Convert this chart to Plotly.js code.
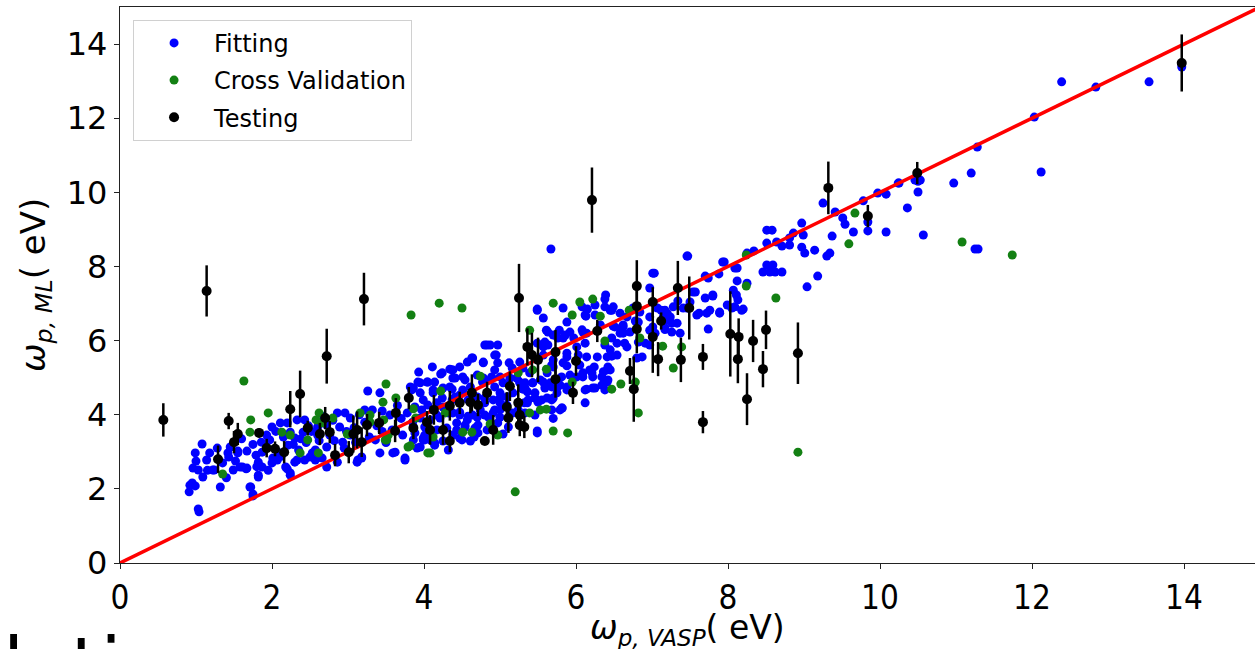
<!DOCTYPE html>
<html>
<head>
<meta charset="utf-8">
<script src="https://cdn.plot.ly/plotly-3.0.1.min.js"></script>
<style>
html,body{margin:0;padding:0;background:#fff;}
#chart{width:1255px;height:649px;}
</style>
</head>
<body>
<div id="chart"></div>
<script>
// ---- Data ----
const seriesNames = ["Fitting", "Cross Validation", "Testing"];

// Fitting: [omega_VASP, omega_ML]
const fittingPts = [
[1.08,3.21],[0.99,2.97],[1.18,2.97],[1.14,2.78],[0.96,2.56],[1.03,2.51],[1.09,2.32],[0.92,2.10],[0.99,2.08],[0.91,1.92],
[1.04,1.38],[1.32,2.05],[1.24,2.51],[1.45,3.13],[1.43,2.86],[1.55,3.02],[1.67,3.02],[1.61,2.59],[1.67,2.56],[1.71,2.05],
[1.75,1.86],[1.82,2.37],[1.82,2.72],[1.79,2.91],[1.87,2.99],[1.86,3.26],[1.93,3.45],[1.97,3.32],[2.01,2.83],[2.08,2.99],
[2.11,3.78],[2.20,3.78],[2.00,3.67],[2.24,3.53],[2.30,3.37],[2.21,3.18],[2.18,2.59],[2.24,2.43],[2.30,2.72],[2.33,3.86],
[2.43,3.86],[2.41,3.53],[2.43,2.78],[2.50,2.86],[2.57,3.05],[2.60,3.45],[2.72,3.72],[2.86,4.05],[2.89,3.67],[2.93,3.26],
[2.72,3.13],[2.66,2.83],[2.96,4.05],[3.03,3.91],[3.13,2.78],[3.18,2.83],[3.26,4.64],[3.32,4.13],[3.42,4.59],[3.42,2.97],
[3.36,3.32],[3.55,3.99],[3.58,3.59],[3.62,2.99],[3.75,2.83],[3.72,3.45],[3.82,4.75],[3.93,5.15],[3.95,4.86],[4.04,4.88],
[3.99,3.32],[3.91,3.10],[3.03,3.45],[2.76,3.45],[2.60,3.67],
[0.95,2.16],[1.03,1.46],[1.22,2.51],[1.49,2.51],[1.58,2.59],[1.66,2.54],[1.42,2.97],[1.55,2.97],[1.75,1.81],[1.72,2.05],
[1.82,2.32],[1.87,2.59],[2.00,2.70],[2.07,2.78],[2.20,2.54],[2.24,2.37],[2.33,2.78],[2.53,2.97],[2.57,2.78],[2.72,2.59],
[2.86,2.72],[3.12,2.72],[3.18,2.86],[3.22,4.13],[3.59,2.97],[3.75,2.78],[3.88,3.51],[4.11,5.29],[4.22,5.10],[4.14,4.88],
[4.34,5.23],[4.12,4.67],[3.95,4.59],[3.84,4.67],[3.97,4.13],[4.05,4.26],[4.17,4.32],[4.24,4.45],[4.32,4.05],[4.21,3.91],
[3.99,3.37],[4.14,3.24],[4.25,3.29],[4.32,3.05],
[2.05,3.55],[2.15,3.40],[2.28,3.20],[2.35,3.05],[2.45,3.25],[2.52,3.55],[2.62,3.30],[2.68,3.95],[2.80,3.85],[2.82,3.30],
[2.95,3.10],[3.08,3.65],[3.15,4.00],[3.22,3.80],[3.28,3.40],[3.38,3.70],[3.45,4.10],[3.50,3.25],[3.65,4.25],[3.70,3.90],
[3.78,4.05],[3.85,3.80],[3.45,3.55],[3.10,3.25],[2.98,3.55],[2.48,3.70],[2.38,3.35],[1.75,3.20],[1.80,2.60],[1.95,2.50],
[2.12,2.88],[1.52,2.75],[1.35,2.70],[1.28,3.10],[1.60,3.35],[1.40,2.30],[1.15,2.50],[1.00,2.75],
[5.67,8.47],[7.46,8.28],[7.01,7.82],[6.97,7.42],[7.93,8.12],[8.09,7.96],[8.12,7.61],[8.07,7.36],[7.54,7.31],[7.80,7.23],
[7.70,7.15],[8.05,6.88],[8.18,6.82],[7.89,6.77],[7.76,6.82],[7.74,6.31],[7.62,6.74],[7.59,6.69],[7.46,6.88],[7.34,7.07],
[7.28,6.91],[7.20,6.74],[7.21,6.55],[7.33,6.47],[7.37,6.20],[7.26,6.23],[7.17,6.34],[7.07,6.88],[6.97,6.64],[6.97,6.28],
[6.91,5.93],[6.97,5.88],[6.87,5.56],[6.80,5.53],[6.82,5.96],[6.71,6.23],[6.62,6.42],[6.58,6.20],[6.64,5.93],[6.67,6.64],
[6.58,6.74],[6.51,6.37],[6.47,6.07],[6.54,5.61],[6.47,5.58],[6.41,5.56],[6.38,5.88],[6.42,5.29],[6.36,5.16],[6.34,5.02],
[6.22,5.02],[6.18,5.21],[6.38,6.91],[6.39,7.23],[6.45,6.82],[6.25,6.69],[6.13,6.66],[6.32,6.42],[6.14,6.20],[6.08,6.29],
[6.12,5.93],[6.01,5.83],[6.03,5.61],[6.14,5.56],[6.28,5.56],[6.24,5.29],[6.09,5.13],[6.01,5.02],[6.14,4.69],[6.25,4.72],
[6.34,4.80],[5.88,5.56],[5.83,5.40],[5.88,4.75],[5.79,4.80],[5.81,5.02],[5.88,5.32],[5.78,6.28],[5.83,6.07],[5.92,6.23],
[5.88,6.50],[5.83,6.88],[6.08,6.91],[6.15,6.85],[5.97,6.07],[5.70,6.15],[5.63,5.88],[5.57,5.83],[5.49,6.82],[5.57,6.61],
[5.61,6.28],[5.68,5.34],[5.62,5.13],[5.57,4.88],[5.68,4.75],[5.68,4.40],[5.62,4.45],[5.75,4.59],[5.81,4.18],[5.49,3.56],
[5.50,4.34],[5.46,4.59],[5.43,4.86],[5.36,4.62],[5.30,4.69],[5.33,4.86],[5.26,4.86],[5.22,4.99],[5.16,5.26],[5.12,5.40],
[5.30,5.26],[5.26,5.42],[5.39,5.13],[5.32,4.32],[5.33,4.05],[5.24,4.13],[5.17,4.05],[5.09,4.48],[5.00,4.59],[5.00,4.32],
[5.04,4.86],[4.93,4.75],[4.89,5.02],[4.93,5.21],[4.95,5.61],[4.80,5.88],[4.87,5.88],[4.77,4.88],[4.80,4.32],[4.74,4.13],
[4.85,3.93],[4.93,4.13],[5.00,3.93],[5.11,3.67],[5.04,3.48],[4.83,3.59],[4.71,3.72],[4.64,3.99],[4.57,3.86],[4.64,4.53],
[4.61,4.75],[4.51,4.67],[4.54,4.94],[4.64,5.53],[4.78,5.40],[4.78,4.99],[4.38,5.21],[4.41,4.99],[4.47,5.29],[4.41,4.48],
[4.34,4.75],[4.47,4.07],[4.43,3.78],[4.50,3.32],[4.38,3.45],[4.14,3.18],[4.01,3.32],[4.54,3.67],[4.61,3.29],[4.71,3.51],
[4.66,3.40],[5.79,4.13],[5.46,3.99],[6.12,4.32],[5.70,3.90],
[9.25,9.71],[9.41,9.47],[9.51,9.31],[9.54,9.14],[9.65,8.93],[9.84,9.20],[9.84,8.96],[10.08,8.93],[9.78,9.77],[9.97,9.98],
[10.08,9.95],[10.24,10.25],[10.50,10.30],[10.50,10.01],[10.36,9.58],[10.57,8.85],[9.37,8.82],[9.34,8.36],[9.30,8.28],[9.14,8.44],
[9.18,7.74],[9.04,7.45],[8.97,9.17],[8.99,8.85],[9.01,8.36],[8.97,8.52],[8.86,8.90],[8.81,8.77],[8.81,8.58],[8.71,8.55],
[8.64,8.66],[8.51,8.98],[8.58,8.98],[8.51,8.63],[8.51,8.04],[8.59,8.04],[8.46,7.85],[8.55,7.85],[8.71,7.85],[8.62,7.85],
[8.34,8.42],[8.25,8.36],[8.12,7.96],[7.95,8.12],[7.88,7.80],[8.11,7.23],[8.25,7.55],[7.74,7.69],[7.70,7.74],[7.47,8.28],
[7.57,7.31],[7.72,6.74],[7.80,7.20],[7.89,6.74],[7.99,6.96],[8.09,6.91],[8.13,7.10],[8.20,6.85],[7.50,7.04],[7.41,6.88],
[7.26,6.47],[7.24,6.64],[7.17,6.82],[7.12,6.82],[7.15,6.64],[7.01,6.37],[7.03,7.82],[6.84,6.77],[6.75,6.88],[6.78,6.53],
[6.82,6.50],[6.38,7.12],[6.47,6.82],[6.49,6.39],[6.60,6.35],[6.62,6.20],[6.67,5.83],[6.54,5.93],[6.45,5.75],[6.41,5.21],
[6.42,4.94],[6.38,4.67],[7.04,6.20],[7.17,6.30],
[12.39,12.98],[12.84,12.84],[13.54,12.98],[13.97,13.38],[12.03,12.03],[11.28,11.22],[11.20,10.52],[12.12,10.55],[10.97,10.25],[10.46,10.33],
[10.53,10.33],[10.25,10.25],[11.25,8.47],[11.29,8.47],
[5.49,6.85],[5.63,6.23],[5.86,6.15],[5.76,6.07],[6.09,6.23],[6.12,6.69],[6.25,6.96],[6.49,6.91],[6.62,6.37],[5.59,5.96],
[5.57,5.61],[5.70,5.48],[5.88,5.66],[6.05,5.34],[5.70,5.29],[5.92,5.07],[6.09,5.02],[6.21,5.13],[6.22,4.72],[6.12,4.67],
[6.45,5.21],[6.41,4.88],[5.49,5.93],[4.97,5.88],[4.83,5.88],[4.93,5.61],[4.78,5.42],[4.63,5.53],[4.57,5.42],[4.97,5.40],
[4.37,5.21],[4.24,5.13],[4.05,4.88],[3.92,4.88],[3.86,4.72],[4.38,4.99],[4.51,5.02],[4.70,5.07],[4.87,4.94],[5.00,5.02],
[5.13,4.99],[5.26,4.88],[5.33,4.72],[5.43,4.86],[5.53,4.94],[5.59,4.72],[5.66,4.86],[5.75,4.72],[5.88,4.67],[5.70,4.45],
[5.55,4.40],[5.46,4.45],[5.37,4.40],[5.36,4.32],[5.82,4.18],[5.68,4.13],[5.49,3.51],[4.37,4.69],[4.25,4.72],[4.12,4.59],
[3.99,4.40],[3.88,4.21],[4.37,4.40],[4.47,4.53],[4.58,4.40],[4.70,4.48],[4.80,4.45],[4.91,4.40],[5.00,4.45],[5.09,4.26],
[5.17,4.59],[5.00,4.13],[4.91,4.05],[4.80,3.99],[4.70,3.93],[4.58,3.96],[4.47,3.99],[4.38,4.05],[4.25,4.21],[4.17,3.99],
[4.08,3.86],[3.95,3.91],[3.86,3.67],[4.01,3.67],[4.17,3.59],[4.30,3.64],[4.43,3.59],[4.54,3.72],[4.67,3.64],[4.97,3.78],
[4.01,3.45],[4.08,3.32],[4.47,3.37],[3.86,3.32],[3.95,3.13]
];

// Cross validation: [omega_VASP, omega_ML]
const crossPts = [
[1.63,4.91],[1.35,2.40],[1.72,3.86],[1.71,3.53],[1.95,4.05],[2.13,3.53],[2.37,2.97],[2.47,3.32],[2.61,2.97],[2.62,4.05],
[2.80,3.91],[2.66,3.78],[3.16,4.05],[3.29,3.80],[3.50,4.83],[3.46,4.34],[3.63,4.45],[3.51,3.32],[3.83,6.69],[4.20,7.01],
[3.82,3.16],[4.05,2.97],[4.22,4.64],[4.12,3.40],[4.28,4.05],[3.86,4.16],[4.50,6.88],[4.74,5.04],[4.51,3.53],[4.63,3.53],
[4.97,3.45],[4.87,3.75],[5.24,5.13],[5.39,4.05],[5.53,4.13],[5.61,4.15],[5.70,3.56],[5.89,3.51],[5.20,1.92],[5.70,7.01],
[5.95,6.69],[6.05,7.04],[6.22,7.12],[6.32,6.66],[6.38,5.99],[5.43,5.21],[5.61,5.23],[5.95,4.88],[6.47,4.69],[6.59,4.83],
[6.82,4.05],[6.78,4.88],[6.84,6.07],[7.14,5.85],[7.28,5.26],[7.39,5.83],[8.24,8.31],[8.24,7.47],[5.39,6.28],[6.70,6.82],
[9.67,9.44],[9.59,8.61],[8.63,7.15],[8.92,2.99],[11.08,8.66],[11.74,8.31],[2.24,3.45],[2.58,3.86],[2.99,3.48],[3.29,3.99],
[3.49,3.32],[3.53,3.45],[3.89,3.91],[3.79,3.13],[4.08,2.97],[3.47,3.86]
];

// Testing: [omega_VASP, omega_ML, error]
const testingPts = [
[0.57,3.86,0.45],[1.14,7.34,0.69],[1.29,2.80,0.37],[1.43,3.83,0.22],[1.50,3.26,0.3],[1.55,3.48,0.3],[1.83,3.51,0.12],[1.93,3.10,0.25],
[2.04,3.08,0.2],[2.16,2.99,0.3],[2.24,4.15,0.49],[2.37,4.56,0.63],[2.47,3.64,0.2],[2.63,3.48,0.3],[2.70,3.91,0.3],[2.72,5.58,0.74],
[2.76,3.53,0.3],[2.83,2.91,0.3],[3.01,2.99,0.3],[3.07,3.48,0.5],[3.12,3.59,0.5],[3.18,3.26,0.4],[3.21,7.12,0.71],[3.25,3.72,0.3],
[3.41,3.78,0.3],[3.62,3.56,0.3],[3.63,4.05,0.4],[3.80,4.45,0.3],[3.86,3.64,0.3],[4.04,3.80,0.3],[4.08,3.59,0.4],[4.13,4.13,0.4],
[4.25,3.59,0.4],[4.34,3.29,0.3],[4.34,4.24,0.4],[4.47,4.32,0.3],[4.63,4.59,0.5],[4.61,4.34,0.3],[4.71,4.26,0.3],[4.80,3.29,0.1],
[4.83,4.59,0.3],[4.91,3.59,0.4],[5.09,4.21,0.4],[5.11,3.91,0.4],[5.13,4.77,0.4],[5.24,4.32,0.5],[5.26,3.99,0.3],[5.26,3.72,0.3],
[5.32,3.67,0.3],[5.25,7.15,0.92],[5.36,5.83,0.5],[5.42,5.61,0.6],[5.50,5.48,0.6],[5.73,5.69,0.6],[5.73,4.96,0.5],[5.96,4.59,0.3],
[6.00,5.45,0.4],[6.21,9.79,0.88],[6.28,6.26,0.3],[6.71,5.18,0.35],[6.76,4.69,0.88],[6.80,7.47,0.7],[6.80,6.93,0.5],[6.80,6.31,0.65],
[7.01,7.04,0.4],[7.01,6.10,0.97],[7.08,5.50,0.46],[7.12,6.53,0.23],[7.34,7.42,0.73],[7.38,5.48,0.6],[7.49,6.88,0.85],[7.67,5.56,0.35],
[7.67,3.80,0.3],[8.03,6.18,1.15],[8.14,6.10,0.5],[8.13,5.50,0.65],[8.25,4.42,0.7],[8.33,5.99,0.57],[8.46,5.23,0.49],[8.50,6.29,0.52],
[8.92,5.66,0.83],[9.32,10.12,0.71],[9.84,9.36,0.3],[10.49,10.52,0.3],[13.97,13.49,0.77]
];

// Ideal y = x reference line end points
const diagLine = [0, 15];
const tickVals = [0, 2, 4, 6, 8, 10, 12, 14];
const xTitle = "<i>ω</i><sub><i>p, VASP</i></sub>( eV)";
const yTitle = "<i>ω</i><sub><i>p, ML</i></sub>( eV)";
const footText = "lati";

// ---- Traces ----
const fitting = {
  type: "scatter", mode: "markers", name: seriesNames[0],
  x: fittingPts.map(p => p[0]), y: fittingPts.map(p => p[1]),
  marker: {color: "#0000ff", size: 9},
  legendgroup: "a", legendrank: 1
};
const cross = {
  type: "scatter", mode: "markers", name: seriesNames[1],
  x: crossPts.map(p => p[0]), y: crossPts.map(p => p[1]),
  marker: {color: "#138013", size: 9},
  legendgroup: "b", legendrank: 2
};
const line = {
  type: "scatter", mode: "lines", showlegend: false,
  x: diagLine, y: diagLine,
  line: {color: "#ff0000", width: 3.5},
  hoverinfo: "skip"
};
const testing = {
  type: "scatter", mode: "markers", name: seriesNames[2],
  x: testingPts.map(p => p[0]), y: testingPts.map(p => p[1]),
  error_y: {type: "data", array: testingPts.map(p => p[2]), visible: true, color: "#000000", thickness: 2.5, width: 0},
  marker: {color: "#000000", size: 10},
  legendgroup: "c", legendrank: 3
};

const baseFont = "DejaVu Sans, sans-serif";
const condFont = "DejaVu Sans Condensed, Liberation Sans Narrow, DejaVu Sans, sans-serif";

const layout = {
  width: 1255, height: 649,
  margin: {l: 120, r: 0, t: 7, b: 86, pad: 0},
  paper_bgcolor: "#fff", plot_bgcolor: "#fff",
  showlegend: true,
  legend: {
    x: 0.0115, y: 0.977, xanchor: "left", yanchor: "top",
    bgcolor: "rgba(255,255,255,0.9)", bordercolor: "#d0d0d0", borderwidth: 1,
    font: {family: baseFont, size: 24, color: "#000"},
    traceorder: "grouped", tracegroupgap: 3, itemwidth: 70
  },
  xaxis: {
    range: [0, 14.934], tickvals: tickVals, ticktext: tickVals.map(String),
    showgrid: false, zeroline: false,
    showline: true, linecolor: "#222", linewidth: 1.2, mirror: true,
    ticks: "outside", ticklen: 5, tickcolor: "#222",
    tickfont: {family: condFont, size: 33, color: "#000"}
  },
  yaxis: {
    range: [0, 15], tickvals: tickVals, ticktext: tickVals.map(String),
    showgrid: false, zeroline: false,
    showline: true, linecolor: "#222", linewidth: 1.2, mirror: false,
    ticks: "outside", ticklen: 5, tickcolor: "#222",
    tickfont: {family: baseFont, size: 32, color: "#000"}
  },
  annotations: [
    {text: xTitle, xref: "paper", yref: "paper", x: 0.5, y: -0.12, xanchor: "center", yanchor: "middle",
     showarrow: false, font: {family: baseFont, size: 33, color: "#000"}},
    {text: yTitle, xref: "paper", yref: "paper", x: -0.075, y: 0.5, xanchor: "center", yanchor: "middle",
     textangle: -90, showarrow: false, font: {family: baseFont, size: 34, color: "#000"}},
    {text: footText, xref: "paper", yref: "paper", x: -0.105, y: -0.1, xanchor: "left", yanchor: "top",
     showarrow: false, font: {family: baseFont, size: 76, color: "#000"}}
  ]
};

Plotly.newPlot("chart", [fitting, cross, line, testing], layout, {staticPlot: true, displayModeBar: false});
</script>
</body>
</html>
